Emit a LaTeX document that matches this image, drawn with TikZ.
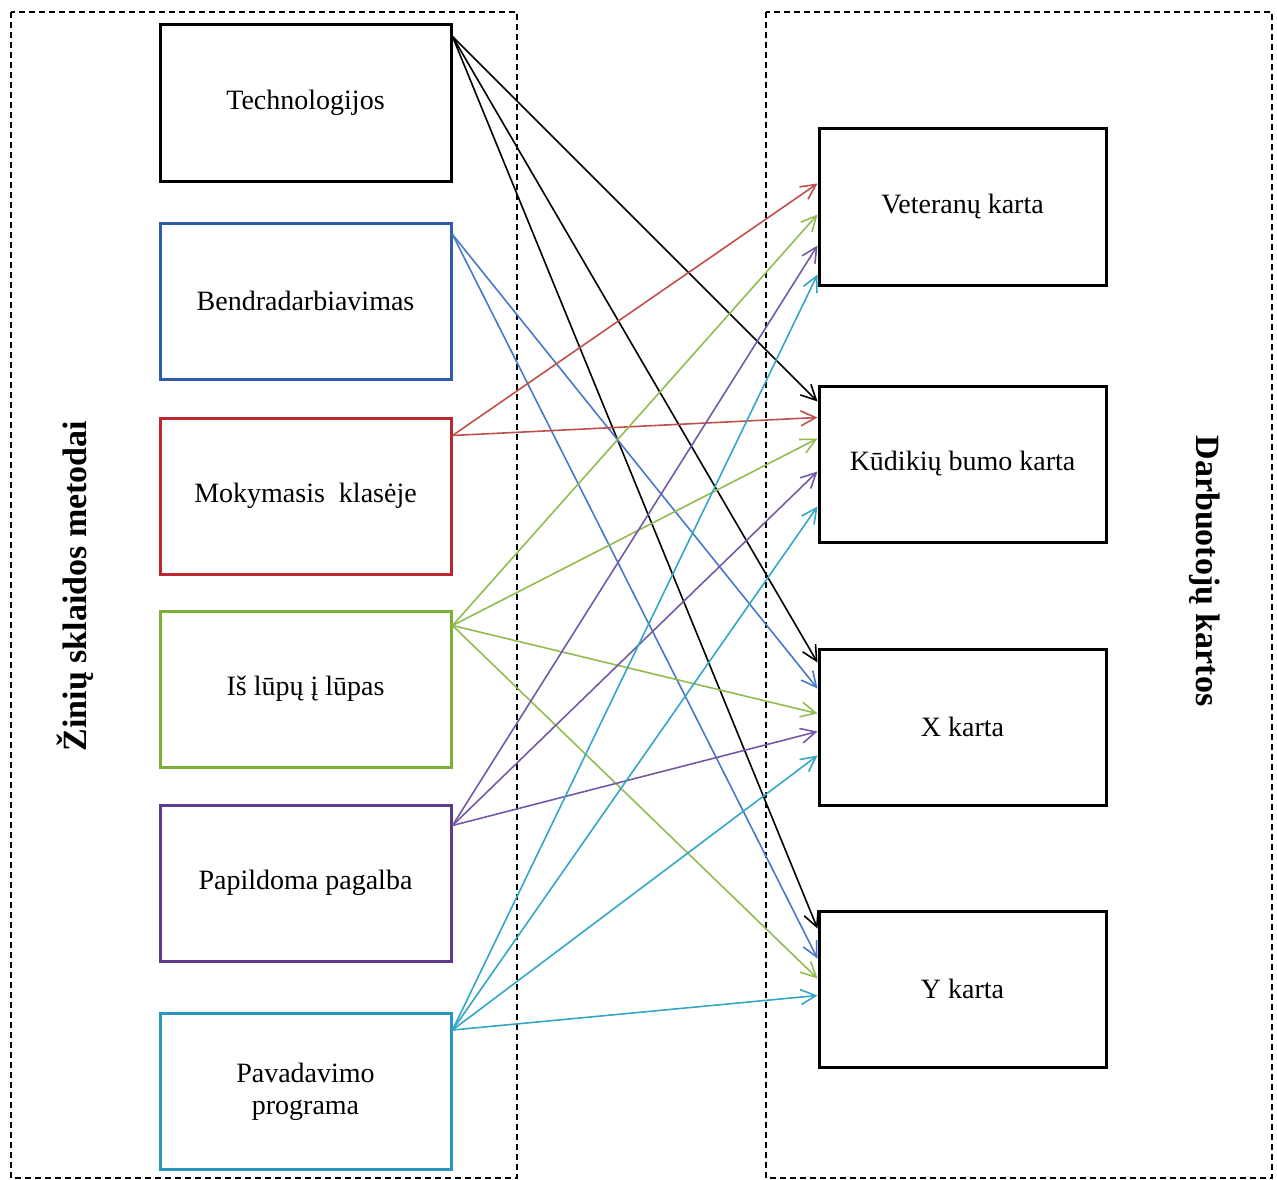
\documentclass[tikz,border=0pt]{standalone}
\usepackage{fontspec}
\setmainfont{Liberation Serif}
\usetikzlibrary{arrows.meta,calc}
\definecolor{cblueB}{HTML}{2F5DAE}
\definecolor{cblueL}{HTML}{4A78C8}
\definecolor{credB}{HTML}{B8282E}
\definecolor{credL}{HTML}{C0504D}
\definecolor{cgreenB}{HTML}{7DAF35}
\definecolor{cgreenL}{HTML}{92BC50}
\definecolor{cpurpB}{HTML}{5E3A8E}
\definecolor{cpurpL}{HTML}{7659A6}
\definecolor{ctealB}{HTML}{2C96BE}
\definecolor{ctealL}{HTML}{35A7C6}
\tikzset{
  box/.style={draw, line width=3pt, minimum width=291pt, minimum height=156pt, inner sep=0pt,
    align=center, font=\fontsize{28}{32}\selectfont},
  rbox/.style={box, minimum width=287pt},
  con/.style={line width=1.6pt, -{Straight Barb[length=15pt,width=15pt,line width=1.6pt]}},
  frame/.style={draw, dashed, line width=1.2pt, dash pattern=on 6pt off 4pt},
  side/.style={font=\bfseries\fontsize{34}{40}\selectfont}
}
\begin{document}
\begin{tikzpicture}[x=1pt,y=-1pt]
\useasboundingbox (0,0) rectangle (1277,1180);
\draw[frame] (11,12) rectangle (517,1178);
\draw[frame] (766,12) rectangle (1272,1178);
% left boxes
\node[box] (tech) at (305.5,103) {Technologijos};
\node[box,draw=cblueB] (bend) at (305.5,301) {Bendradarbiavimas};
\node[box,draw=credB] (mok) at (305.5,496) {Mokymasis\ \ klasėje};
\node[box,draw=cgreenB] (lup) at (305.5,689) {Iš lūpų į lūpas};
\node[box,draw=cpurpB] (pap) at (305.5,883) {Papildoma pagalba};
\node[box,draw=ctealB] (pav) at (305.5,1091.5) {Pavadavimo\\programa};
% right boxes
\node[rbox] (vet) at (962.5,207) {Veteranų karta};
\node[rbox] (kud) at (962.5,464) {Kūdikių bumo karta};
\node[rbox] (xk) at (962.5,727) {X karta};
\node[rbox] (yk) at (962.5,989) {Y karta};
% side labels
\node[side,rotate=90] (lt) at (75,586) {Žinių sklaidos metodai};
\node[side,rotate=-90] (rt) at (1205,571) {Darbuotojų kartos};
% start coordinates
\coordinate (s1) at ([yshift=-13pt]tech.north east);
\coordinate (s2) at ([yshift=-13pt]bend.north east);
\coordinate (s3) at ([yshift=-19pt]mok.north east);
\coordinate (s4) at ([yshift=-16pt]lup.north east);
\coordinate (s5) at ([yshift=-22pt]pap.north east);
\coordinate (s6) at ([yshift=-18pt]pav.north east);
% black
\draw[con] (s1) -- ([yshift=-17pt]kud.north west);
\draw[con] (s1) -- ([yshift=-15pt]xk.north west);
\draw[con] (s1) -- ([yshift=-19pt]yk.north west);
% blue
\draw[con,cblueL] (s2) -- ([yshift=-41pt]xk.north west);
\draw[con,cblueL] (s2) -- ([yshift=-49pt]yk.north west);
% red
\draw[con,credL] (s3) -- ([yshift=-56pt]vet.north west);
\draw[con,credL] (s3) -- ([yshift=-33pt]kud.north west);
% green
\draw[con,cgreenL] (s4) -- ([yshift=-87pt]vet.north west);
\draw[con,cgreenL] (s4) -- ([yshift=-54pt]kud.north west);
\draw[con,cgreenL] (s4) -- ([yshift=-66pt]xk.north west);
\draw[con,cgreenL] (s4) -- ([yshift=-69pt]yk.north west);
% purple
\draw[con,cpurpL] (s5) -- ([yshift=-118pt]vet.north west);
\draw[con,cpurpL] (s5) -- ([yshift=-87pt]kud.north west);
\draw[con,cpurpL] (s5) -- ([yshift=-84pt]xk.north west);
% teal
\draw[con,ctealL] (s6) -- ([yshift=-147pt]vet.north west);
\draw[con,ctealL] (s6) -- ([yshift=-122pt]kud.north west);
\draw[con,ctealL] (s6) -- ([yshift=-108pt]xk.north west);
\draw[con,ctealL] (s6) -- ([yshift=-86pt]yk.north west);
\end{tikzpicture}
\end{document}
